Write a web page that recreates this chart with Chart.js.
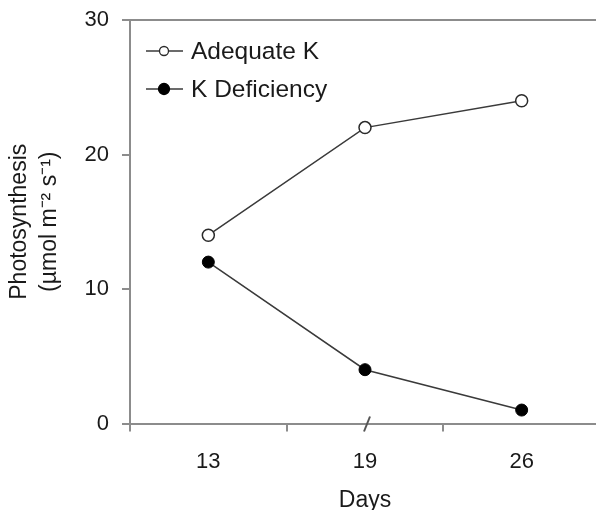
<!DOCTYPE html>
<html>
<head>
<meta charset="utf-8">
<script src="https://cdn.jsdelivr.net/npm/chart.js@4"></script>
<style>
html,body{margin:0;padding:0;background:#fff;overflow:hidden;width:596px;height:510px;}
#wrap{position:relative;width:600px;height:510px;}
</style>
</head>
<body>
<div id="wrap"><canvas id="c" width="600" height="510"></canvas></div>
<script>
const categories = ['13', '19', '26'];
const adequateK = [14, 22, 24];
const kDeficiency = [12, 4, 1];
const yTicks = [0, 10, 20, 30];
const seriesNames = ['Adequate K', 'K Deficiency'];
const xTitle = 'Days';
const yTitle = ['Photosynthesis', '(µmol m⁻² s⁻¹)'];

const FONT = "'Liberation Sans', Arial, sans-serif";
const AXIS = '#8c8c8c';
const TXT = '#1a1a1a';

const legendPlugin = {
  id: 'customLegend',
  afterDraw(chart) {
    const ctx = chart.ctx;
    const area = chart.chartArea;
    ctx.save();
    chart.data.datasets.forEach((ds, i) => {
      const y = area.top + 31 + i * 38;
      const x0 = area.left + 16;
      ctx.strokeStyle = ds.borderColor;
      ctx.lineWidth = 1.5;
      ctx.beginPath();
      ctx.moveTo(x0, y);
      ctx.lineTo(x0 + 37, y);
      ctx.stroke();
      ctx.beginPath();
      ctx.arc(x0 + 18, y, i === 0 ? 4.5 : 5.5, 0, Math.PI * 2);
      ctx.fillStyle = ds.pointBackgroundColor;
      ctx.fill();
      ctx.lineWidth = 1.3;
      ctx.strokeStyle = ds.pointBorderColor;
      ctx.stroke();
      ctx.fillStyle = TXT;
      ctx.font = '24.5px ' + FONT;
      ctx.textBaseline = 'middle';
      ctx.textAlign = 'left';
      ctx.fillText(ds.label, x0 + 45, y + 1);
    });
    ctx.restore();
  }
};

const framePlugin = {
  id: 'frame',
  afterDraw(chart) {
    const ctx = chart.ctx;
    const area = chart.chartArea;
    const xs = chart.scales.x;
    ctx.save();
    ctx.strokeStyle = AXIS;
    ctx.lineWidth = 2;
    ctx.beginPath();
    ctx.moveTo(area.left - 1, area.top);
    ctx.lineTo(chart.width, area.top);
    ctx.stroke();
    const bx = xs.getPixelForValue(1) + 2;
    const by = area.bottom;
    ctx.strokeStyle = '#555';
    ctx.lineWidth = 2;
    ctx.beginPath();
    ctx.moveTo(bx - 3, by + 8);
    ctx.lineTo(bx + 3, by - 7);
    ctx.stroke();
    ctx.restore();
  }
};

new Chart(document.getElementById('c'), {
  type: 'line',
  data: {
    labels: categories,
    datasets: [
      {
        label: seriesNames[0],
        data: adequateK,
        borderColor: '#3a3a3a',
        borderWidth: 1.5,
        pointBackgroundColor: '#ffffff',
        pointBorderColor: '#2a2a2a',
        pointBorderWidth: 1.5,
        pointRadius: 6,
        tension: 0
      },
      {
        label: seriesNames[1],
        data: kDeficiency,
        borderColor: '#3a3a3a',
        borderWidth: 1.5,
        pointBackgroundColor: '#000000',
        pointBorderColor: '#000000',
        pointBorderWidth: 1,
        pointRadius: 6,
        tension: 0
      }
    ]
  },
  options: {
    responsive: false,
    animation: false,
    clip: false,
    layout: { autoPadding: false, padding: { top: 20, left: 0, right: 0, bottom: 0 } },
    plugins: { legend: { display: false }, tooltip: { enabled: false } },
    scales: {
      x: {
        type: 'category',
        offset: true,
        grid: { display: true, drawOnChartArea: false, drawTicks: true, tickLength: 8, color: AXIS, lineWidth: 2, offset: true },
        border: { display: true, color: AXIS, width: 2 },
        ticks: { color: TXT, font: { family: FONT, size: 22 }, padding: 17 },
        title: { display: true, text: xTitle, color: TXT, font: { family: FONT, size: 23, lineHeight: 0.85 }, padding: { top: 0, bottom: 0 } },
        afterFit(scale) { scale.height = 86.5; scale.paddingLeft = 0; scale.paddingRight = 0; }
      },
      y: {
        min: 0, max: 30,
        afterBuildTicks(scale) { scale.ticks = yTicks.map(v => ({ value: v })); },
        grid: { display: true, drawOnChartArea: false, drawTicks: true, tickLength: 8, color: AXIS, lineWidth: 2 },
        border: { display: true, color: AXIS, width: 2 },
        ticks: { color: TXT, font: { family: FONT, size: 22 }, padding: 13 },
        title: { display: true, text: yTitle, color: TXT, font: { family: FONT, size: 23, lineHeight: 1.3 }, padding: { top: 5, bottom: 0 } },
        afterFit(scale) { scale.width = 130; scale.paddingTop = 0; scale.paddingBottom = 0; }
      }
    }
  },
  plugins: [legendPlugin, framePlugin]
});
</script>
</body>
</html>
